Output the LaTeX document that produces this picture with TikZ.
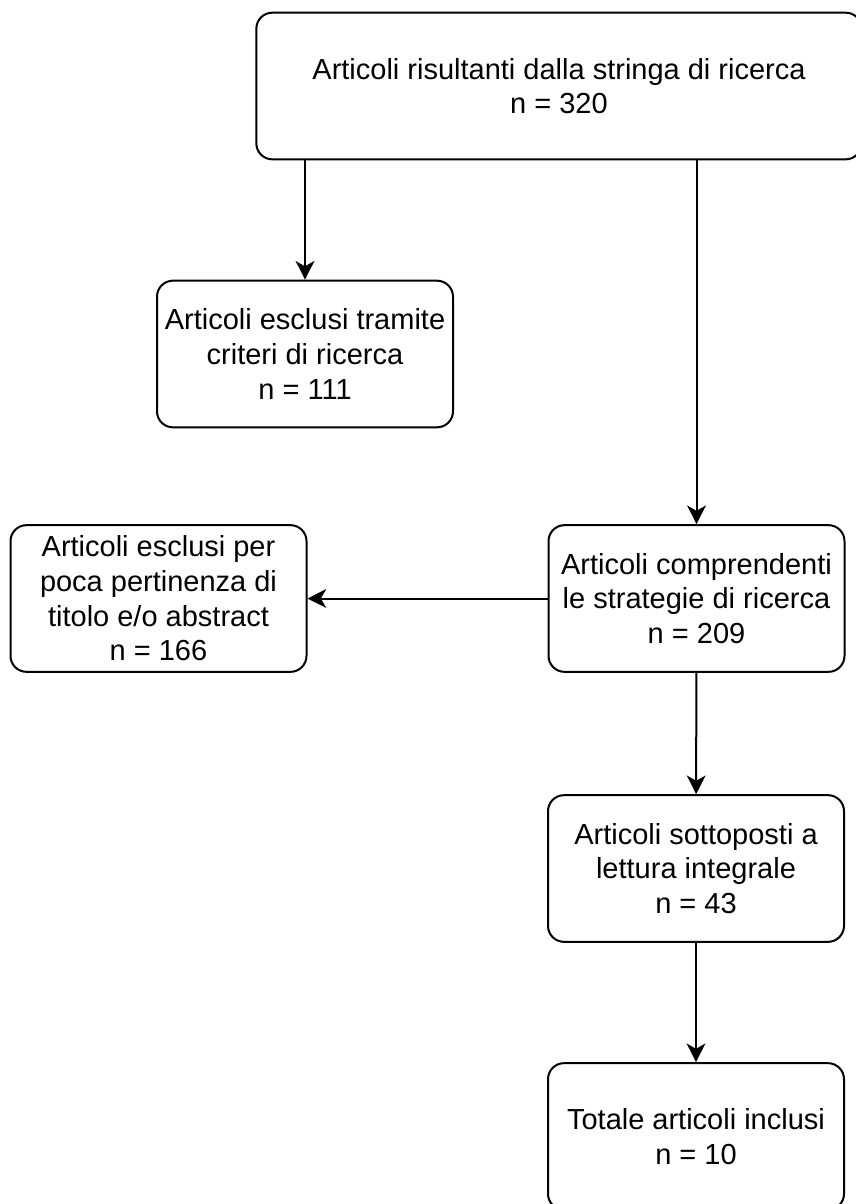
\documentclass[tikz,border=0pt]{standalone}
\usepackage{fontspec}
\setmainfont{Liberation Sans}
\usepackage{tikz}
\usetikzlibrary{arrows.meta, positioning, calc}

\begin{document}
\begin{tikzpicture}[
    x=0.75pt, y=-0.75pt,
    box/.style={rectangle, draw, line width=1.5pt, rounded corners=12pt, minimum width=222pt, minimum height=110pt, inner sep=0pt, align=center, font=\fontsize{21.75pt}{26pt}\selectfont},
    arrow/.style={-{Stealth[length=14pt, width=14pt, inset=4pt]}, line width=1.5pt}
  ]

    \useasboundingbox (0,0) rectangle (856,1204);

    % Top
    \node[box, minimum width=454pt] (search) at (559, 86) {Articoli risultanti dalla stringa di ricerca\\n = 320};

    % Exclusions
    \node[box] (criteria) at (305, 354) {Articoli esclusi tramite\\criteri di ricerca\\n = 111};
    \node[box] (relevance) at (158.5, 598.5) {Articoli esclusi per\\poca pertinenza di\\titolo e/o abstract\\n = 166};

    % Main column
    \node[box] (strategies) at (696.5, 598.5) {Articoli comprendenti\\le strategie di ricerca\\n = 209};
    \node[box] (fulltext) at (696, 868.5) {Articoli sottoposti a\\lettura integrale\\n = 43};
    \node[box] (included) at (696, 1136.5) {Totale articoli inclusi\\n = 10};

    % Arrows
    \draw[arrow] (search.south -| criteria.north) -- (criteria.north);
    \draw[arrow] (search.south -| strategies.north) -- (strategies.north);
    \draw[arrow] (strategies.west) -- (relevance.east);
    \draw[arrow] (strategies) -- (fulltext);
    \draw[arrow] (fulltext) -- (included);

\end{tikzpicture}
\end{document}
